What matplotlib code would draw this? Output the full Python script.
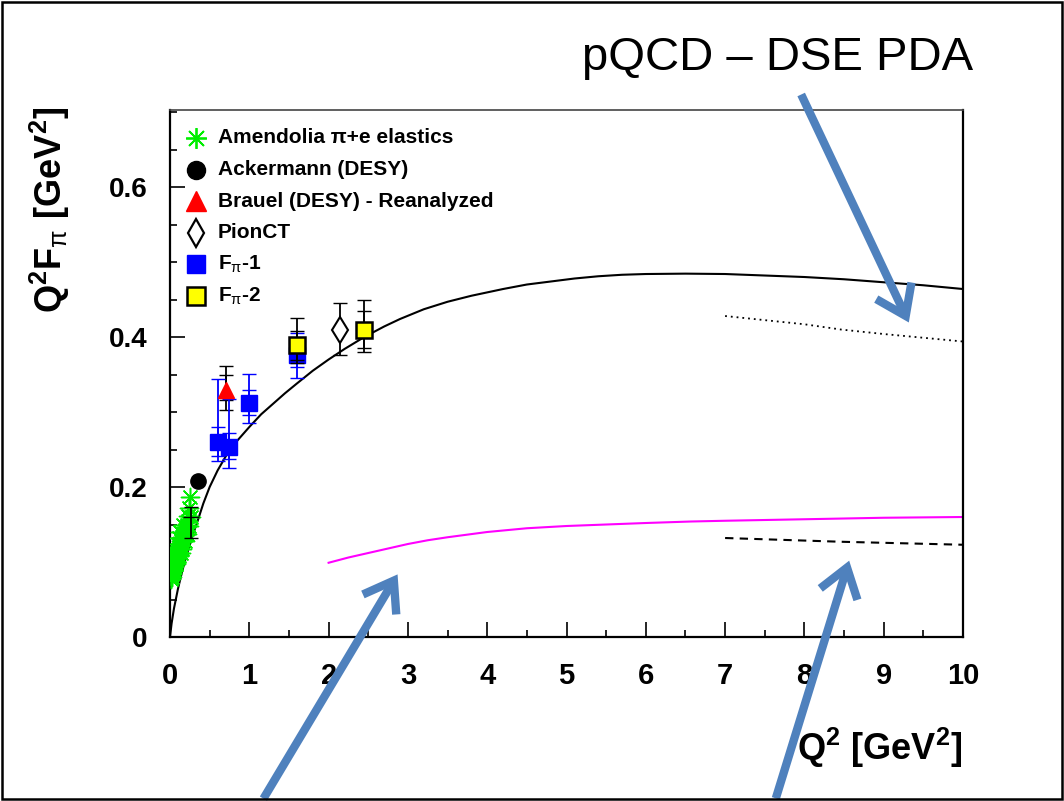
import numpy as np
import matplotlib
matplotlib.use("Agg")
import matplotlib.pyplot as plt
from matplotlib.patches import Rectangle, FancyArrowPatch
from matplotlib.ticker import MultipleLocator, FixedLocator

plt.rcParams['font.family'] = ['Liberation Sans', 'DejaVu Sans']
plt.rcParams['mathtext.fontset'] = 'custom'
plt.rcParams['mathtext.rm'] = 'Liberation Sans'
plt.rcParams['mathtext.bf'] = 'Liberation Sans:bold'
plt.rcParams['mathtext.it'] = 'Liberation Sans:italic'

# --- data ---
amend_q2 = [0.015, 0.018, 0.022, 0.025, 0.029, 0.033, 0.036, 0.040, 0.044, 0.048,
            0.052, 0.056, 0.061, 0.066, 0.071, 0.076, 0.081, 0.087, 0.093, 0.099,
            0.105, 0.112, 0.119, 0.126, 0.133, 0.141, 0.149, 0.157, 0.165, 0.174,
            0.183, 0.192, 0.201, 0.211, 0.221, 0.231, 0.244, 0.253,
            0.030, 0.045, 0.060, 0.080, 0.095, 0.115, 0.130, 0.150, 0.170, 0.190,
            0.210, 0.240, 0.270, 0.110, 0.140]
amend_f = [0.078, 0.082, 0.080, 0.086, 0.084, 0.090, 0.088, 0.093, 0.091, 0.097,
           0.095, 0.100, 0.099, 0.104, 0.102, 0.108, 0.106, 0.112, 0.110, 0.116,
           0.114, 0.120, 0.118, 0.124, 0.122, 0.128, 0.127, 0.133, 0.131, 0.138,
           0.136, 0.143, 0.147, 0.150, 0.155, 0.162, 0.172, 0.187,
           0.095, 0.103, 0.112, 0.098, 0.124, 0.108, 0.140, 0.118, 0.150, 0.128,
           0.138, 0.148, 0.160, 0.132, 0.112]

ack_q2 = [0.35]
ack_f = [0.208]

old_q2 = [0.26]
old_f = [0.160]
old_lo = [0.028]
old_hi = [0.014]

brauel_q2 = [0.70]
brauel_f = [0.329]
brauel_lo_tot = [0.026]
brauel_hi_tot = [0.032]
brauel_lo_stat = [0.013]
brauel_hi_stat = [0.020]

pionct_q2 = [2.15]
pionct_f = [0.410]
pionct_lo = [0.034]
pionct_hi = [0.036]

fpi1_q2 = [0.60, 0.75, 1.00, 1.60]
fpi1_f = [0.260, 0.254, 0.312, 0.376]
fpi1_lo_tot = [0.025, 0.028, 0.026, 0.030]
fpi1_hi_tot = [0.084, 0.063, 0.039, 0.029]
fpi1_lo_stat = [0.018, 0.016, 0.016, 0.016]
fpi1_hi_stat = [0.020, 0.018, 0.017, 0.014]

fpi2_q2 = [1.60, 2.45]
fpi2_f = [0.389, 0.409]
fpi2_lo_tot = [0.024, 0.029]
fpi2_hi_tot = [0.036, 0.041]
fpi2_lo_stat = [0.020, 0.024]
fpi2_hi_stat = [0.019, 0.026]

# DSE curve
dse_q2 = [0, 0.02, 0.05, 0.1, 0.15, 0.2, 0.25, 0.3, 0.34, 0.42, 0.5, 0.6, 0.72,
          0.85, 1.0, 1.15, 1.3, 1.45, 1.6, 1.8, 2.0, 2.2, 2.45, 2.7, 2.9, 3.2,
          3.5, 3.8, 4.2, 4.5, 4.8, 5.1, 5.4, 5.7, 6.0, 6.5, 7.0, 7.5, 8.0, 8.5,
          9.0, 9.5, 10.0]
dse_f = [0, 0.018, 0.038, 0.064, 0.086, 0.106, 0.123, 0.140, 0.152, 0.178, 0.200,
         0.222, 0.244, 0.262, 0.280, 0.297, 0.311, 0.325, 0.338, 0.355, 0.370,
         0.384, 0.400, 0.414, 0.424, 0.437, 0.447, 0.455, 0.464, 0.470, 0.474,
         0.478, 0.481, 0.483, 0.484, 0.4845, 0.484, 0.482, 0.480, 0.477, 0.473,
         0.469, 0.464]

# pQCD with DSE PDA
pqcd_dse_q2 = [7.0, 8.0, 8.46, 9.0, 10.0]
pqcd_dse_f = [0.428, 0.417, 0.410, 0.404, 0.394]

# magenta curve
mag_q2 = [2.0, 2.25, 2.5, 2.75, 3.0, 3.25, 3.5, 4.0, 4.5, 5.0, 5.5, 6.0, 6.57,
          7.0, 8.0, 9.0, 10.0]
mag_f = [0.099, 0.106, 0.112, 0.118, 0.124, 0.129, 0.133, 0.140, 0.145, 0.148,
         0.150, 0.152, 0.154, 0.155, 0.157, 0.159, 0.160]

# pQCD asymptotic (dashed)
pqcd_as_q2 = [7.0, 8.46, 10.0]
pqcd_as_f = [0.132, 0.127, 0.123]

W, H = 1064, 801
fig = plt.figure(figsize=(W / 100, H / 100), dpi=100)
ax = fig.add_axes([170 / W, (H - 637) / H, 793 / W, 527 / H])
ax.set_xlim(0, 10)
ax.set_ylim(0, 0.7027)

ax.plot(dse_q2, dse_f, color='black', lw=1.5, zorder=2)
ax.plot(mag_q2, mag_f, color='#ff00ff', lw=1.5)
ax.plot(pqcd_dse_q2, pqcd_dse_f, color='black', lw=1.3, ls=(0, (1, 2.2)))
ax.plot(pqcd_as_q2, pqcd_as_f, color='black', lw=1.5, ls=(0, (4, 3)))

cap = 5.2
star = (8, 2, 0)
ax.scatter(amend_q2, amend_f, marker=star, s=170, color='#00ee00', lw=1.1, zorder=3)
ax.errorbar(old_q2, old_f, yerr=[old_lo, old_hi], fmt='_', color='black', ms=12,
            capsize=cap, lw=1.3, zorder=4)
ax.plot(ack_q2, ack_f, 'o', color='black', ms=11, zorder=5)

ax.errorbar(brauel_q2, brauel_f, yerr=[brauel_lo_tot, brauel_hi_tot], fmt='none',
            ecolor='black', capsize=cap, lw=1.3, zorder=4)
ax.errorbar(brauel_q2, brauel_f, yerr=[brauel_lo_stat, brauel_hi_stat], fmt='none',
            ecolor='black', capsize=cap, lw=1.3, zorder=4)
ax.plot(brauel_q2, brauel_f, '^', color='red', ms=12, zorder=5)

ax.errorbar(fpi1_q2, fpi1_f, yerr=[fpi1_lo_tot, fpi1_hi_tot], fmt='none',
            ecolor='blue', capsize=cap, lw=1.3, zorder=4)
ax.errorbar(fpi1_q2, fpi1_f, yerr=[fpi1_lo_stat, fpi1_hi_stat], fmt='none',
            ecolor='blue', capsize=cap, lw=1.3, zorder=4)
ax.plot(fpi1_q2, fpi1_f, 's', color='blue', ms=11, zorder=5)

ax.errorbar(fpi2_q2, fpi2_f, yerr=[fpi2_lo_tot, fpi2_hi_tot], fmt='none',
            ecolor='black', capsize=cap, lw=1.3, zorder=6)
ax.errorbar(fpi2_q2, fpi2_f, yerr=[fpi2_lo_stat, fpi2_hi_stat], fmt='none',
            ecolor='black', capsize=cap, lw=1.3, zorder=6)
ax.plot(fpi2_q2, fpi2_f, 's', mfc='yellow', mec='black', mew=1.8, ms=11, zorder=7)

ax.errorbar(pionct_q2, pionct_f, yerr=[pionct_lo, pionct_hi], fmt='none',
            ecolor='black', capsize=cap, lw=1.3, zorder=4)
ax.plot(pionct_q2, pionct_f, 'd', mfc='white', mec='black', mew=1.5, ms=13, zorder=5)

# legend drawn by hand
leg = [
    (dict(marker=star, color='#00ee00', ms=15, mew=1.3), 'Amendolia π+e elastics'),
    (dict(marker='o', color='black', ms=13), 'Ackermann (DESY)'),
    (dict(marker='^', color='red', ms=14), 'Brauel (DESY) - Reanalyzed'),
    (dict(marker='d', mfc='white', mec='black', mew=1.6, ms=14), 'PionCT'),
    (dict(marker='s', color='blue', ms=13), r'F$_{\mathrm{\pi}}$-1'),
    (dict(marker='s', mfc='yellow', mec='black', mew=1.8, ms=13), r'F$_{\mathrm{\pi}}$-2'),
]
leg_y = [0.947, 0.887, 0.827, 0.767, 0.708, 0.647]
for (kw, lab), yy in zip(leg, leg_y):
    ax.plot([0.033], [yy], transform=ax.transAxes, ls='none', clip_on=False, **kw)
    ax.text(0.0605, yy, lab, transform=ax.transAxes, fontsize=15,
            fontweight='bold', va='center', ha='left')

# axes style
ax.xaxis.set_major_locator(MultipleLocator(1))
ax.xaxis.set_minor_locator(MultipleLocator(0.5))
ax.yaxis.set_major_locator(FixedLocator([0, 0.2, 0.4, 0.6]))
ax.yaxis.set_minor_locator(MultipleLocator(0.05))
ax.set_yticklabels(['0', '0.2', '0.4', '0.6'])
ax.tick_params(which='major', direction='in', length=11, width=1.2,
               labelsize=20, top=False, right=False)
ax.tick_params(which='minor', direction='in', length=5, width=1.2,
               top=False, right=False)
ax.tick_params(axis='x', pad=18, labelsize=21)
ax.tick_params(axis='y', pad=16)
for lab in ax.get_xticklabels() + ax.get_yticklabels():
    lab.set_fontweight('bold')
for s in ['left', 'bottom', 'right']:
    ax.spines[s].set_linewidth(1.6)
ax.spines['top'].set_linewidth(1.2)
ax.spines['top'].set_color('#444444')

fig.text(50 / W, 1 - 210 / H, r'Q$^{\mathbf{2}}$F$_{\mathrm{\pi}}$ [GeV$^{\mathbf{2}}$]',
         rotation=90, fontsize=26, fontweight='bold', ha='center', va='center')
fig.text(962 / W, 1 - 748 / H, r'Q$^{\mathbf{2}}$ [GeV$^{\mathbf{2}}$]',
         fontsize=26, fontweight='bold', ha='right', va='center')
fig.text(778 / W, 1 - 58 / H, 'pQCD – DSE PDA', fontsize=34, ha='center', va='center')

# arrows
arrow_col = '#4f81bd'
for tail, tip in [((800, 92), (910, 325)), ((262, 801), (399, 572)), ((775, 801), (850, 558))]:
    a = FancyArrowPatch((tail[0] / W, 1 - tail[1] / H), (tip[0] / W, 1 - tip[1] / H),
                        transform=fig.transFigure, arrowstyle='->,head_length=0.5,head_width=0.35',
                        mutation_scale=40, lw=6, color=arrow_col, capstyle='butt',
                        joinstyle='miter')
    fig.add_artist(a)

fig.add_artist(Rectangle((0.002, 0.002), 0.996, 0.996, transform=fig.transFigure,
                         fill=False, lw=1.8, ec='black'))

fig.savefig('out.png', dpi=100)
